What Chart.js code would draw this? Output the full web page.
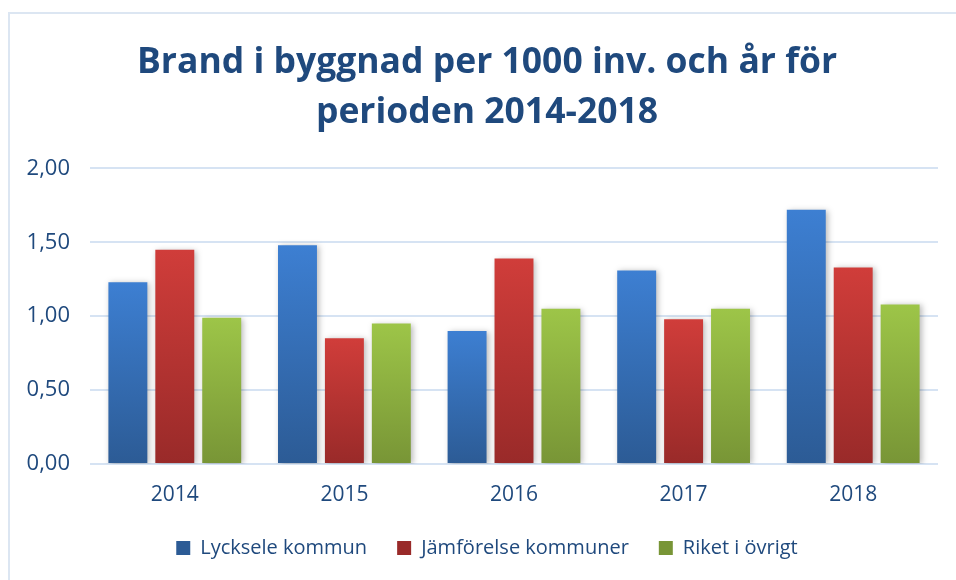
<!DOCTYPE html>
<html>
<head>
<meta charset="utf-8">
<script src="https://cdn.jsdelivr.net/npm/chart.js@4"></script>
<style>
    body { margin: 0; background: #ffffff; }
    #wrap { position: relative; width: 956px; height: 580px; overflow: hidden; }
    #frame { position: absolute; left: 8px; top: 12px; width: 1000px; height: 700px;
             border-left: 2px solid #dce6f2; border-top: 2px solid #dce6f2; }
    #brandChart { position: absolute; left: 0; top: 0; }
</style>
</head>
<body>
<div id="wrap">
    <div id="frame"></div>
    <canvas id="brandChart" width="956" height="580"></canvas>
</div>
<script>
// ==========================================
// Data
// ==========================================

const years = ["2014", "2015", "2016", "2017", "2018"];

const lycksele = [1.23, 1.48, 0.90, 1.31, 1.72];

const jamforelse = [1.45, 0.85, 1.39, 0.98, 1.33];

const riket = [0.99, 0.95, 1.05, 1.05, 1.08];

const seriesNames = ["Lycksele kommun", "Jämförelse kommuner", "Riket i övrigt"];

const titleLines = ["Brand i byggnad per 1000 inv. och år för", "perioden 2014-2018"];

// top colour, bottom colour, legend colour
const palette = [
    ["#3d7fd2", "#2c5b95", "#3470bd"],
    ["#d03d3a", "#992a29", "#c03634"],
    ["#9dc548", "#789536", "#8db23f"]
];

const textBlue = "#1f497d";

// ==========================================
// Per-bar vertical gradient
// ==========================================

function barFill(idx) {

    return function (context) {

        const chart = context.chart;

        if (context.type !== "data" || !chart.chartArea) return palette[idx][2];

        const y = chart.scales.y;

        const top = y.getPixelForValue(context.raw);

        const bottom = y.getPixelForValue(0);

        const grad = chart.ctx.createLinearGradient(0, top, 0, bottom);

        grad.addColorStop(0, palette[idx][0]);

        grad.addColorStop(1, palette[idx][1]);

        return grad;

    };

}

const barShadow = {

    id: "barShadow",

    beforeDatasetsDraw(chart) {

        const ctx = chart.ctx;

        ctx.save();

        ctx.shadowColor = "rgba(0,0,0,0.28)";

        ctx.shadowBlur = 6;

        ctx.shadowOffsetX = 2;

        ctx.shadowOffsetY = 1;

    },

    afterDatasetsDraw(chart) {

        chart.ctx.restore();

    }

};

const seriesData = [lycksele, jamforelse, riket];

const datasets = seriesNames.map((name, i) => ({

    label: name,

    data: seriesData[i],

    backgroundColor: barFill(i),

    borderWidth: 0,

    categoryPercentage: 0.83,

    barPercentage: 0.83

}));

// ==========================================
// Chart
// ==========================================

new Chart(document.getElementById("brandChart"), {

    type: "bar",

    data: {

        labels: years,

        datasets: datasets

    },

    plugins: [barShadow],

    options: {

        responsive: false,

        animation: false,

        layout: {

            padding: { left: 18, right: 0, top: 0, bottom: 12 }

        },

        plugins: {

            title: {

                display: true,

                text: titleLines,

                color: textBlue,

                font: { family: "Open Sans", size: 35.5, weight: "bold", lineHeight: 1.4 },

                padding: { top: 38, bottom: 31 }

            },

            legend: {

                position: "bottom",

                labels: {

                    color: textBlue,

                    font: { family: "Open Sans", size: 20 },

                    boxWidth: 14,

                    boxHeight: 14,

                    padding: 30

                }

            },

            tooltip: { enabled: false }

        },

        scales: {

            x: {

                afterFit(scale) { scale.height = 44; },

                grid: { display: false, drawTicks: false },

                border: { display: false },

                ticks: {

                    color: textBlue,

                    font: { family: "Open Sans", size: 21 },

                    padding: 18

                }

            },

            y: {

                min: 0,

                max: 2,

                afterFit(scale) { scale.width = 72; },

                grid: { color: "#d6e3f3", lineWidth: 2, drawTicks: false },

                border: { display: false },

                ticks: {

                    stepSize: 0.5,

                    color: textBlue,

                    font: { family: "Open Sans", size: 22 },

                    padding: 20,

                    callback: v => v.toFixed(2).replace(".", ",")

                }

            },

            // empty right gutter so title and legend centre like the original
            gutter: {

                type: "linear",

                position: "right",

                afterFit(scale) { scale.width = 18; },

                grid: { display: false, drawTicks: false },

                border: { display: false },

                ticks: { display: false }

            }

        }

    }

});
</script>
</body>
</html>
